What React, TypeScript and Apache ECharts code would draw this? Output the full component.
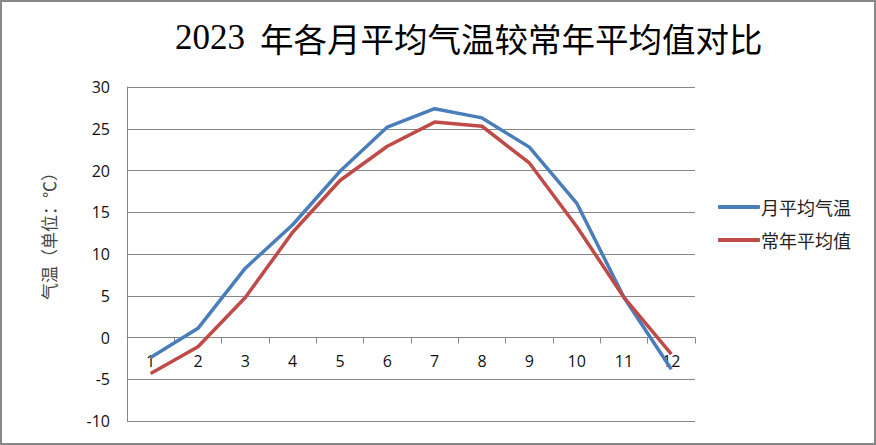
import { useRef, useEffect } from 'react';
import * as echarts from 'echarts';

const months = ['1', '2', '3', '4', '5', '6', '7', '8', '9', '10', '11', '12'];
const monthlyAvg = [-2.4, 1.1, 8.3, 13.5, 19.9, 25.2, 27.4, 26.3, 22.8, 16.1, 4.8, -3.8];
const normalAvg = [-4.3, -1.1, 4.8, 12.6, 18.8, 22.9, 25.8, 25.3, 20.9, 13.3, 4.8, -2.0];

const App: React.FC = () => {
    const chartRef = useRef<HTMLDivElement>(null);

    useEffect(() => {
        document.body.style.margin = '0';
        if (chartRef.current) {
            const chart = echarts.init(chartRef.current, undefined, { renderer: 'svg' });
            const option: echarts.EChartsOption = {
                animation: false,
                backgroundColor: '#fff',
                grid: { left: 127, right: 181, top: 87, bottom: 24 },
                legend: {
                    orient: 'vertical',
                    left: 713,
                    top: 193,
                    itemWidth: 42,
                    itemHeight: 4,
                    itemGap: 15,
                    icon: 'roundRect',
                    textStyle: {
                        fontFamily: 'Noto Sans CJK SC, sans-serif',
                        fontSize: 18,
                        color: '#222',
                        padding: [0, 0, 0, -4],
                    },
                    data: ['月平均气温', '常年平均值'],
                },
                graphic: [
                    {
                        type: 'rect',
                        shape: { x: 1, y: 1, width: 874, height: 443 },
                        style: { fill: 'none', stroke: '#888', lineWidth: 2 },
                        silent: true,
                    },
                    {
                        type: 'text',
                        left: 175,
                        top: 20,
                        style: {
                            text: '{d|2023}{c|年各月平均气温较常年平均值对比}',
                            rich: {
                                d: {
                                    fontFamily: "'Liberation Serif', 'Times New Roman', 'DejaVu Serif', serif",
                                    fontSize: 35,
                                    width: 85,
                                    fill: '#000',
                                },
                                c: {
                                    fontFamily: 'Noto Sans CJK SC, sans-serif',
                                    fontSize: 33.5,
                                    fill: '#000',
                                },
                            },
                        },
                    },
                    {
                        type: 'text',
                        x: 48,
                        y: 232,
                        rotation: Math.PI / 2,
                        style: {
                            text: '气温（单位：℃）',
                            fontFamily: 'Noto Sans CJK SC, sans-serif',
                            fontSize: 17,
                            fill: '#444',
                            align: 'center',
                            verticalAlign: 'middle',
                        },
                    },
                ],
                xAxis: {
                    type: 'category',
                    data: months,
                    boundaryGap: true,
                    position: 'bottom',
                    offset: -83.5,
                    axisLine: { onZero: false, lineStyle: { color: '#868686', width: 1 } },
                    axisTick: { show: true, length: 6, lineStyle: { color: '#868686' } },
                    axisLabel: {
                        margin: 15,
                        fontFamily: 'Open Sans, sans-serif',
                        fontSize: 16,
                        color: '#111',
                    },
                },
                yAxis: {
                    type: 'value',
                    min: -10,
                    max: 30,
                    interval: 5,
                    axisLine: { show: true, lineStyle: { color: '#868686', width: 1 } },
                    axisTick: { show: false },
                    splitLine: { show: true, lineStyle: { color: '#868686', width: 1 } },
                    axisLabel: {
                        margin: 17,
                        fontFamily: 'Open Sans, sans-serif',
                        fontSize: 16,
                        color: '#111',
                    },
                },
                series: [
                    {
                        name: '月平均气温',
                        type: 'line',
                        data: monthlyAvg,
                        symbol: 'none',
                        color: '#4a7ebb',
                        lineStyle: { color: '#4a7ebb', width: 3.5 },
                    },
                    {
                        name: '常年平均值',
                        type: 'line',
                        data: normalAvg,
                        symbol: 'none',
                        color: '#be4b48',
                        lineStyle: { color: '#be4b48', width: 3.5 },
                    },
                ],
            };
            chart.setOption(option);
            return () => {
                chart.dispose();
            };
        }
    }, []);

    return <div ref={chartRef} style={{ width: '876px', height: '445px' }} />;
};

export default App;
